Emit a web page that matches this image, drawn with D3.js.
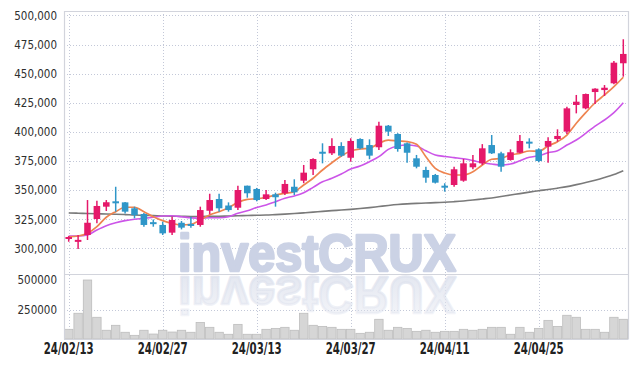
<!DOCTYPE html>
<html>
<head>
<meta charset="utf-8">
<script src="https://cdn.jsdelivr.net/npm/d3@7"></script>
<style>
  body { margin: 0; background: #fff; }
  svg { display: block; }
  .ylab text { font-family: 'DejaVu Sans Condensed', 'DejaVu Sans'; font-stretch: condensed; font-size: 11.5px; fill: #2e2e2e; }
  .xlab text { font-family: 'DejaVu Sans Condensed', 'DejaVu Sans'; font-stretch: condensed; font-weight: bold; font-size: 15px; fill: #222; }
</style>
</head>
<body>
<div id="chart"></div>
<script>
const dates = ['24/02/13','24/02/14','24/02/15','24/02/16','24/02/19','24/02/20','24/02/21','24/02/22','24/02/23','24/02/26',
  '24/02/27','24/02/28','24/02/29','24/03/04','24/03/05','24/03/06','24/03/07','24/03/08','24/03/11','24/03/12',
  '24/03/13','24/03/14','24/03/15','24/03/18','24/03/19','24/03/20','24/03/21','24/03/22','24/03/25','24/03/26',
  '24/03/27','24/03/28','24/03/29','24/04/01','24/04/02','24/04/03','24/04/04','24/04/05','24/04/08','24/04/09',
  '24/04/11','24/04/12','24/04/15','24/04/16','24/04/17','24/04/18','24/04/19','24/04/22','24/04/23','24/04/24',
  '24/04/25','24/04/26','24/04/29','24/04/30','24/05/02','24/05/03','24/05/07','24/05/08','24/05/09','24/05/10'];

const opens = [308700,305800,311600,325300,335900,340000,339600,334500,329600,322000,
  320200,313600,322100,320500,320200,332400,342500,336900,335000,353900,
  351100,342500,346500,347400,353000,358200,368000,382400,381700,388000,
  377900,394000,388800,386900,405400,398300,390300,377400,367400,363100,
  353300,354500,358200,369700,373100,388800,381700,376000,382200,391200,
  385100,387400,394000,400300,423200,420300,434300,436000,441800,459000];
const highs = [310700,311600,341600,341000,341600,353000,340000,335900,330500,324900,
  323000,327300,323600,327300,335900,347000,347000,339600,353900,354000,
  352000,350200,347900,358800,359400,371700,377400,390300,394600,391200,
  394600,394600,393700,408900,406000,399000,391000,380300,370200,364000,
  356000,370200,376800,380300,389600,397400,383100,385100,397400,394600,
  386000,395400,402300,421700,431800,433000,437500,440300,461000,479600];
const lows = [305800,299600,307300,321600,332200,331600,330000,325900,318700,318700,
  311600,311600,316400,317900,318700,329300,331600,331600,333000,343600,
  340500,341600,335900,345900,345900,356000,363100,373100,380300,378800,
  374500,385200,376600,384500,396600,383100,373600,368800,356500,355800,
  348800,353000,357300,368000,371700,381100,365900,375400,381700,386000,
  374000,373600,391700,398300,416000,419500,424000,430900,441000,447500];
const closes = [309300,307300,322100,336500,339700,339300,331600,328700,320200,321500,
  313000,324500,317900,319900,333000,341600,334500,333000,350200,347400,
  341600,346500,344000,355400,348200,365100,376800,382000,388000,379700,
  392300,386000,379700,405400,400300,385400,382200,370200,360800,356500,
  352800,368000,373100,373100,386000,381700,370200,382600,392300,390500,
  375100,392300,396600,420300,426000,432600,437200,438000,459500,467000];
const volumes = [82000,218000,500000,184000,74000,116000,57000,31000,74000,42000,
  74000,59000,74000,57000,140000,99000,57000,40000,124000,40000,
  40000,82000,90000,99000,74000,218000,116000,107000,99000,82000,
  82000,48000,57000,167000,74000,99000,90000,65000,74000,57000,
  65000,65000,82000,74000,82000,99000,99000,40000,99000,57000,
  90000,158000,107000,201000,184000,82000,82000,57000,184000,167000];

// moving averages
const ma5 = [310100,310700,313000,318700,326800,331600,335400,335400,331600,327300,
  323900,321600,320200,320800,324500,328800,331600,335000,339600,342200,
  342700,344000,345900,347400,348800,354500,360300,367400,373600,379400,
  383700,385400,386000,390300,393100,392300,391700,389400,378800,368800,
  364800,363100,363100,365900,371700,376600,377400,380300,381700,383700,
  383400,388000,391700,397400,407500,416600,425100,431800,438900,447000];
const ma10 = [310700,310700,311600,315900,319600,322100,323900,325100,325900,326800,
  327900,328100,327300,326400,325900,326400,326400,327300,330200,332400,
  335200,337300,340200,343100,345100,347900,352500,357300,360300,363900,
  368200,370800,374500,378800,385100,388000,388800,388000,383900,380300,
  379000,378000,377000,375400,373600,372500,371700,372500,375400,378300,
  379600,382200,383900,388800,393100,398900,405100,410300,416600,425100];
const maLong = [330500,330300,330000,329800,329600,329400,329100,328700,328500,328200,
  327900,327700,327600,327500,327500,327600,327700,327900,328100,328300,
  328500,328700,329100,329500,330000,330600,331200,331900,332500,333000,
  333600,334300,335100,336000,336900,337700,338300,338700,339000,339400,
  339700,340200,340800,341600,342500,343400,344600,345900,347100,348400,
  349600,350600,351800,353100,354800,356600,358600,360900,363500,366800];

const xTicks = ['24/02/13','24/02/27','24/03/13','24/03/27','24/04/11','24/04/25'];
const priceTicks = [300000,325000,350000,375000,400000,425000,450000,475000,500000];
const volTicks = [250000,500000];

const W = 637, H = 368;
const plotL = 64, plotR = 628, plotT = 11, plotSplit = 274, plotB = 339;

const svg = d3.select('#chart').append('svg')
    .attr('width', W)
    .attr('height', H);

const x = d3.scaleBand()
    .domain(dates)
    .range([plotL, plotR])
    .paddingInner(0.3)
    .paddingOuter(0.15);
const cx = d => x(d) + x.bandwidth() / 2;

const y = d3.scaleLinear().domain([278110, 503860]).range([plotSplit, plotT]);
const yv = d3.scaleLinear().domain([0, 551000]).range([plotB, plotSplit]);

const candles = dates.map((d, i) => ({ date: d, o: opens[i], h: highs[i], l: lows[i], c: closes[i], v: volumes[i] }));

// grid
const grid = svg.append('g')
    .attr('stroke', '#c3c8d8')
    .attr('stroke-dasharray', '1,2')
    .attr('stroke-width', 1);

grid.selectAll('.hgrid')
    .data(priceTicks)
    .join('line')
    .attr('class', 'hgrid')
    .attr('x1', plotL).attr('x2', plotR)
    .attr('y1', d => Math.round(y(d)) + 0.5).attr('y2', d => Math.round(y(d)) + 0.5);

grid.selectAll('.vgrid')
    .data(volTicks.slice(0, 1))
    .join('line')
    .attr('class', 'vgrid')
    .attr('x1', plotL).attr('x2', plotR)
    .attr('y1', d => Math.round(yv(d)) + 0.5).attr('y2', d => Math.round(yv(d)) + 0.5);

grid.selectAll('.xgrid')
    .data(xTicks)
    .join('line')
    .attr('class', 'xgrid')
    .attr('x1', d => Math.round(cx(d)) + 0.5).attr('x2', d => Math.round(cx(d)) + 0.5)
    .attr('y1', plotT).attr('y2', plotB);

// watermark with reflection (one text, drawn twice)
const defs = svg.append('defs');
const grad = defs.append('linearGradient')
    .attr('id', 'refl')
    .attr('x1', 0).attr('y1', 0).attr('x2', 0).attr('y2', 1);
grad.append('stop').attr('offset', '0%').attr('stop-color', '#dfe3ee').attr('stop-opacity', 0.3);
grad.append('stop').attr('offset', '100%').attr('stop-color', '#dfe3ee').attr('stop-opacity', 0.95);

const wmBase = 271;
defs.append('text')
    .attr('id', 'wmtext')
    .attr('x', 178).attr('y', wmBase)
    .attr('textLength', 278)
    .attr('lengthAdjust', 'spacingAndGlyphs')
    .attr('stroke-width', 2.6)
    .attr('stroke-linejoin', 'round')
    .style('font-family', "'Liberation Sans', Arial, sans-serif")
    .style('font-weight', 'bold')
    .style('font-size', '52px')
    .text('investCRUX');

svg.append('use')
    .attr('href', '#wmtext')
    .attr('fill', '#cbd2e5')
    .attr('stroke', '#cbd2e5');

svg.append('use')
    .attr('href', '#wmtext')
    .attr('transform', `translate(0, ${2 * wmBase + 6}) scale(1, -1)`)
    .attr('fill', 'url(#refl)')
    .attr('stroke', 'url(#refl)');

// volume
svg.append('g')
    .selectAll('rect')
    .data(candles)
    .join('rect')
    .attr('x', d => cx(d.date) - x.step() / 2 + 0.5)
    .attr('width', x.step() - 1)
    .attr('y', d => yv(d.v))
    .attr('height', d => yv(0) - yv(d.v))
    .attr('fill', '#d6d6d6')
    .attr('stroke', '#bdbdbd')
    .attr('stroke-width', 0.8);

// moving averages
const line = arr => d3.line()
    .x((d, i) => cx(dates[i]))
    .y(d => y(d))
    .curve(d3.curveMonotoneX)(arr);

svg.append('path').attr('d', line(maLong)).attr('fill', 'none').attr('stroke', '#7a7a7a').attr('stroke-width', 1.6);
svg.append('path').attr('d', line(ma10)).attr('fill', 'none').attr('stroke', '#cc55e8').attr('stroke-width', 1.6);
svg.append('path').attr('d', line(ma5)).attr('fill', 'none').attr('stroke', '#ee8450').attr('stroke-width', 1.7);

// candles
const up = '#e5186a', down = '#2f96c8';
const cg = svg.append('g')
    .selectAll('g')
    .data(candles)
    .join('g');

cg.append('line')
    .attr('x1', d => cx(d.date)).attr('x2', d => cx(d.date))
    .attr('y1', d => y(d.h)).attr('y2', d => y(d.l))
    .attr('stroke', d => d.c >= d.o ? up : down)
    .attr('stroke-width', 1.5);

cg.append('rect')
    .attr('x', d => x(d.date))
    .attr('width', x.bandwidth())
    .attr('y', d => {
        const h = Math.abs(y(d.o) - y(d.c));
        return h < 2 ? (y(d.o) + y(d.c)) / 2 - 1 : y(Math.max(d.o, d.c));
    })
    .attr('height', d => Math.max(2, Math.abs(y(d.o) - y(d.c))))
    .attr('fill', d => d.c >= d.o ? up : down);

// axes
svg.append('g')
    .attr('class', 'ylab')
    .attr('transform', `translate(${plotL}, 0)`)
    .call(d3.axisLeft(y).tickValues(priceTicks).tickFormat(d3.format(',')).tickSize(0).tickPadding(7))
    .call(g => g.select('.domain').remove());

svg.append('g')
    .attr('class', 'ylab')
    .attr('transform', `translate(${plotL}, 0)`)
    .call(d3.axisLeft(yv).tickValues(volTicks).tickFormat(d3.format('d')).tickSize(0).tickPadding(7))
    .call(g => g.select('.domain').remove());

svg.append('g')
    .attr('class', 'xlab')
    .attr('transform', `translate(0, ${plotB})`)
    .call(d3.axisBottom(x).tickValues(xTicks).tickSize(0).tickPadding(4.5))
    .call(g => g.select('.domain').remove())
    .call(g => g.selectAll('text').attr('textLength', 50).attr('lengthAdjust', 'spacingAndGlyphs'));

// frame
const frame = svg.append('g').attr('stroke', '#d2d4dc').attr('stroke-width', 1.2).attr('fill', 'none');
frame.append('path').attr('d', `M${plotL + 0.5},${plotT + 0.5}H${plotR + 0.5}V${plotB + 0.5}`);
frame.append('line').attr('x1', plotL + 0.5).attr('x2', plotL + 0.5).attr('y1', plotT).attr('y2', plotB + 0.5);
frame.append('line').attr('x1', plotL).attr('x2', plotR).attr('y1', plotSplit + 0.5).attr('y2', plotSplit + 0.5);
frame.append('line').attr('x1', plotL).attr('x2', plotR).attr('y1', plotB + 0.5).attr('y2', plotB + 0.5);
</script>
</body>
</html>
